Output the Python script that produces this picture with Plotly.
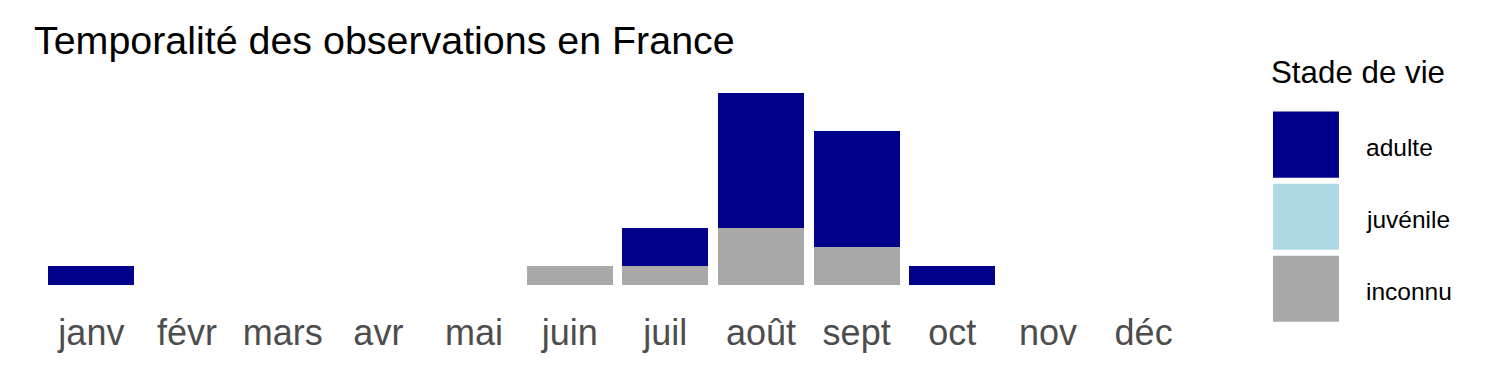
import plotly.graph_objects as go

months = ["janv", "févr", "mars", "avr", "mai", "juin", "juil", "août", "sept", "oct", "nov", "déc"]
stages = ["adulte", "juvénile", "inconnu"]
colors = ["#00008B", "#ADD8E6", "#A9A9A9"]
adulte = [1, 0, 0, 0, 0, 0, 2, 7, 6, 1, 0, 0]
juvenile = [0, 0, 0, 0, 0, 0, 0, 0, 0, 0, 0, 0]
inconnu = [0, 0, 0, 0, 0, 1, 1, 3, 2, 0, 0, 0]
title_text = "Temporalité des observations en France"
legend_title = "Stade de vie"

W, H = 1500, 375
L, R, T, B = 33.6, 299, 83.4, 79.7
PW = W - L - R
PH = H - T - B
FONT = "Liberation Sans, Arial, sans-serif"

fig = go.Figure()
# stacking order: inconnu at bottom, then juvénile, then adulte
series = {"adulte": adulte, "juvénile": juvenile, "inconnu": inconnu}
for name in ["inconnu", "juvénile", "adulte"]:
    fig.add_trace(go.Bar(
        x=months, y=series[name], name=name,
        marker=dict(color=colors[stages.index(name)], line=dict(width=0)),
        showlegend=False,
    ))

def px_to_paper_x(px):
    return (px - L) / PW

def px_to_paper_y(py):
    return (H - B - py) / PH

shapes = []
annotations = []
key_left, key_size, key_step, key_top0 = 1273, 66, 72, 112
for i, (name, col) in enumerate(zip(stages, colors)):
    top = key_top0 + i * key_step
    shapes.append(dict(
        type="rect", xref="paper", yref="paper",
        x0=px_to_paper_x(key_left), x1=px_to_paper_x(key_left + key_size),
        y0=px_to_paper_y(top + key_size), y1=px_to_paper_y(top),
        fillcolor=col, line=dict(width=0), layer="above",
    ))
    annotations.append(dict(
        text=name, xref="paper", yref="paper",
        x=px_to_paper_x(1364), y=px_to_paper_y(top + key_size / 2 + 2.5),
        xanchor="left", yanchor="middle", showarrow=False,
        font=dict(family=FONT, size=24.5, color="black"),
    ))
annotations.append(dict(
    text=legend_title, xref="paper", yref="paper",
    x=px_to_paper_x(1269), y=px_to_paper_y(73),
    xanchor="left", yanchor="middle", showarrow=False,
    font=dict(family=FONT, size=31.3, color="black"),
))

fig.update_layout(
    width=W, height=H,
    margin=dict(l=L, r=R, t=T, b=B, pad=0),
    barmode="stack", bargap=0.1,
    plot_bgcolor="white", paper_bgcolor="white",
    title=dict(text=title_text, xref="container", yref="container",
               x=34 / W, xanchor="left", y=1 - 40 / H, yanchor="middle",
               font=dict(family=FONT, size=39.4, color="black")),
    xaxis=dict(type="category", categoryorder="array", categoryarray=months,
               range=[-0.6, 11.6], showgrid=False, zeroline=False, showline=False,
               ticks="", tickfont=dict(family=FONT, size=36, color="#4D4D4D"),
               ticklabelstandoff=13, fixedrange=True),
    yaxis=dict(range=[-0.5, 10.5], showgrid=False, zeroline=False, showline=False,
               showticklabels=False, ticks="", fixedrange=True),
    shapes=shapes, annotations=annotations,
)

fig.write_html("out.html")
